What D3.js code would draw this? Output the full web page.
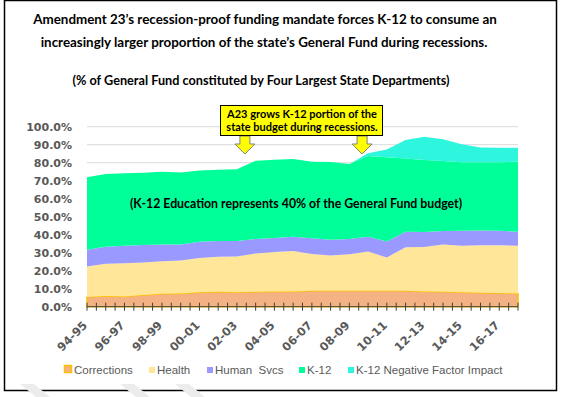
<!DOCTYPE html>
<html lang="en">

<head>
    <meta charset="UTF-8" />
    <script type="text/javascript" src="https://cdn.jsdelivr.net/npm/d3@7"></script>
    <title>K-12 share of General Fund</title>
    <style>
        body { margin: 0; background: #fff; }
        svg { display: block; }
    </style>
</head>

<body>
    <div id="my_dataviz"></div>
    <script type="text/javascript">
        // fiscal years on the category axis
        var years = ["94-95", "95-96", "96-97", "97-98", "98-99", "99-00", "00-01", "01-02",
            "02-03", "03-04", "04-05", "05-06", "06-07", "07-08", "08-09", "09-10",
            "10-11", "11-12", "12-13", "13-14", "14-15", "15-16", "16-17", "17-18"];

        // % of General Fund per department
        var corrections = [5.4, 5.9, 5.7, 6.5, 7.2, 7.4, 8.0, 8.3, 8.0, 8.3, 8.5, 8.5,
            8.8, 8.9, 8.9, 8.9, 8.9, 8.8, 8.5, 8.3, 8.0, 7.8, 7.6, 7.4];
        var health = [17.0, 18.0, 18.4, 18.1, 18.0, 18.2, 19.0, 19.5, 19.9, 21.3, 21.9, 22.5,
            20.5, 19.6, 20.2, 21.7, 18.5, 24.2, 24.6, 26.3, 25.9, 26.3, 26.5, 26.5];
        var humanSvcs = [9.3, 9.4, 9.8, 9.7, 9.4, 9.0, 9.1, 8.7, 8.6, 8.0, 7.7, 7.8,
            8.7, 8.7, 8.5, 8.3, 8.8, 8.7, 8.4, 7.4, 8.3, 8.3, 8.1, 7.8];
        var k12 = [40.2, 40.4, 40.2, 40.1, 40.4, 40.0, 39.5, 39.6, 39.8, 43.5, 43.6, 43.2,
            42.5, 43.2, 41.7, 44.8, 46.8, 40.7, 40.0, 38.9, 38.0, 37.8, 38.0, 38.9];
        var negFactor = [0, 0, 0, 0, 0, 0, 0, 0, 0, 0, 0, 0,
            0, 0, 0, 1.5, 4.4, 10.2, 12.9, 12.1, 10.0, 8.3, 8.1, 7.7];

        var keys = ["Corrections", "Health", "Human  Svcs", "K-12", "K-12 Negative Factor Impact"];
        var colors = ["#f4b183", "#ffe699", "#9999ff", "#00ff99", "#2ef5dd"];
        var yTicks = [0, 10, 20, 30, 40, 50, 60, 70, 80, 90, 100];

        var data = years.map(function (yr, i) {
            var row = { year: yr };
            row[keys[0]] = corrections[i];
            row[keys[1]] = health[i];
            row[keys[2]] = humanSvcs[i];
            row[keys[3]] = k12[i];
            row[keys[4]] = negFactor[i];
            return row;
        });

        const width = 563, height = 397;

        const svg = d3.select("#my_dataviz")
            .append("svg")
            .attr("width", width)
            .attr("height", height)
            .style("font-family", "Liberation Sans, Arial, sans-serif");

        // outer frame
        svg.append("rect")
            .attr("x", 4.5).attr("y", 0.5)
            .attr("width", 552).attr("height", 390)
            .attr("fill", "none")
            .attr("stroke", "#000")
            .attr("stroke-width", 1.5);

        // faint watermark stripes along the bottom edge
        svg.append("g")
            .selectAll("path")
            .data([20, 120, 175])
            .enter().append("path")
            .attr("d", function (d) { return "M" + d + ",384 L" + (d + 14) + ",384 L" + (d + 30) + ",397 L" + (d + 16) + ",397 Z"; })
            .attr("fill", "#ececec");

        // titles
        var title = svg.append("text")
            .attr("text-anchor", "middle")
            .attr("font-family", "Lato, sans-serif")
            .attr("font-weight", "bold")
            .attr("font-size", 13.4)
            .attr("fill", "#000");
        title.append("tspan").attr("x", 265).attr("y", 24)
            .text("Amendment 23\u2019s recession-proof funding mandate forces K-12 to consume an");
        title.append("tspan").attr("x", 264).attr("y", 47)
            .text("increasingly larger proportion of the state\u2019s General Fund during recessions.");

        svg.append("text")
            .attr("x", 261).attr("y", 85)
            .attr("text-anchor", "middle")
            .attr("font-family", "Lato, sans-serif")
            .attr("font-weight", "bold")
            .attr("font-size", 12.7)
            .text("(% of General Fund constituted by Four Largest State Departments)");

        // scales
        const x = d3.scalePoint()
            .domain(years)
            .range([87, 518]);

        const y = d3.scaleLinear()
            .domain([0, 100])
            .range([306.7, 126.7]);

        // gridlines
        svg.append("g")
            .selectAll("line")
            .data(yTicks.slice(1))
            .enter().append("line")
            .attr("x1", 87).attr("x2", 518)
            .attr("y1", function (d) { return y(d); })
            .attr("y2", function (d) { return y(d); })
            .attr("stroke", "#d9d9d9")
            .attr("stroke-width", 1);

        // stacked areas
        var series = d3.stack().keys(keys)(data);

        var area = d3.area()
            .x(function (d) { return x(d.data.year); })
            .y0(function (d) { return y(d[0]); })
            .y1(function (d) { return y(d[1]); });

        svg.append("g")
            .selectAll("path")
            .data(series)
            .enter().append("path")
            .attr("d", area)
            .attr("fill", function (d, i) { return colors[i]; })
            .attr("stroke", function (d, i) { return i == 0 ? "#ffc000" : "none"; })
            .attr("stroke-width", 1.5);

        // y axis labels
        svg.append("g")
            .attr("transform", "translate(87,0)")
            .call(d3.axisLeft(y).tickValues(yTicks).tickSize(0).tickPadding(15)
                .tickFormat(function (d) { return d.toFixed(1) + "%"; }))
            .call(function (g) { g.select(".domain").remove(); })
            .selectAll("text")
            .attr("font-family", "DejaVu Sans, sans-serif")
            .attr("font-weight", "bold")
            .attr("font-size", 11)
            .attr("fill", "#595959");

        // x axis with half-step ticks
        var step = x.step();
        var tickPos = d3.range(0, years.length * 2 - 1).map(function (i) { return 87 + i * step / 2; });
        var xaxis = svg.append("g");
        xaxis.append("line")
            .attr("x1", 87).attr("x2", 518)
            .attr("y1", y(0)).attr("y2", y(0))
            .attr("stroke", "#404040").attr("stroke-width", 1);
        xaxis.selectAll("line.tick")
            .data(tickPos)
            .enter().append("line")
            .attr("class", "tick")
            .attr("x1", function (d) { return d; })
            .attr("x2", function (d) { return d; })
            .attr("y1", y(0) - 4).attr("y2", y(0) + 4)
            .attr("stroke", "#404040");
        xaxis.selectAll("text")
            .data(years.filter(function (d, i) { return i % 2 == 0; }))
            .enter().append("text")
            .attr("transform", function (d) { return "translate(" + (x(d) + 1) + "," + 326 + ")rotate(-45)"; })
            .attr("text-anchor", "end")
            .attr("font-family", "DejaVu Sans, sans-serif")
            .attr("font-weight", "bold")
            .attr("font-size", 11.5)
            .attr("fill", "#595959")
            .text(function (d) { return d; });

        // inner annotation
        svg.append("text")
            .attr("x", 296).attr("y", 208)
            .attr("text-anchor", "middle")
            .attr("font-family", "Lato, sans-serif")
            .attr("font-weight", "bold")
            .attr("font-size", 12.3)
            .text("(K-12 Education represents 40% of the General Fund budget)");

        // callout arrows
        var arrowX = [x("02-03") + 8, x("09-10") - 6];
        svg.append("g")
            .selectAll("path")
            .data(arrowX)
            .enter().append("path")
            .attr("d", function (d) {
                return "M" + (d - 5) + ",136 L" + (d + 5) + ",136 L" + (d + 5) + ",144 L" + (d + 10) + ",144 L" + d + ",154 L" +
                    (d - 10) + ",144 L" + (d - 5) + ",144 Z";
            })
            .attr("fill", "#ffff00")
            .attr("stroke", "#7f7f7f")
            .attr("stroke-width", 1);

        // callout box
        svg.append("rect")
            .attr("x", 220.5).attr("y", 105.5)
            .attr("width", 162).attr("height", 30)
            .attr("fill", "#ffff00")
            .attr("stroke", "#000")
            .attr("stroke-width", 1);
        var callout = svg.append("text")
            .attr("text-anchor", "middle")
            .attr("font-family", "Lato, sans-serif")
            .attr("font-weight", "bold")
            .attr("font-size", 11);
        callout.append("tspan").attr("x", 302).attr("y", 118).text("A23 grows K-12 portion of the");
        callout.append("tspan").attr("x", 302).attr("y", 131).text("state budget during recessions.");

        // legend
        var legendX = [64, 149, 207, 299, 348];
        var legend = svg.selectAll(".legend")
            .data(keys)
            .enter().append("g")
            .attr("class", "legend")
            .attr("transform", function (d, i) { return "translate(" + legendX[i] + ",370)"; });

        legend.append("rect")
            .attr("x", function (d, i) { return i == 0 ? 0.5 : 0; })
            .attr("y", function (d, i) { return i == 0 ? -4.5 : -3; })
            .attr("width", function (d, i) { return i == 0 ? 7 : 6; })
            .attr("height", function (d, i) { return i == 0 ? 7 : 6; })
            .attr("fill", function (d, i) { return colors[i]; })
            .attr("stroke", function (d, i) { return i == 0 ? "#ffc000" : "none"; })
            .attr("stroke-width", 1.5);

        legend.append("text")
            .attr("x", function (d, i) { return i == 0 ? 10 : 8; })
            .attr("y", 4)
            .attr("font-size", 11.5)
            .attr("fill", "#595959")
            .style("white-space", "pre")
            .text(function (d) { return d; });
    </script>
</body>

</html>
